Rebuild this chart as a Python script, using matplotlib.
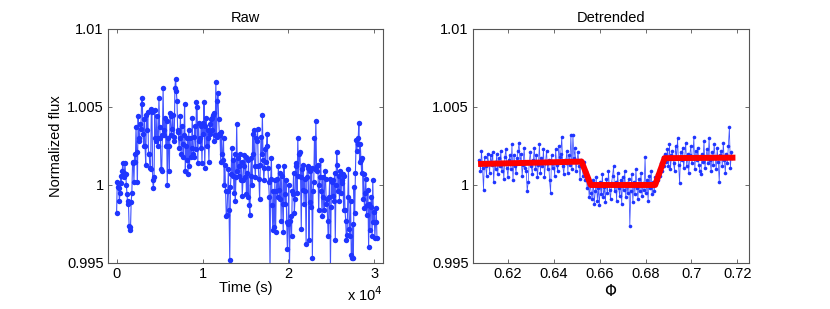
import numpy as np
import matplotlib
matplotlib.use("Agg")
import matplotlib.pyplot as plt

plt.rcParams['font.family'] = ['Liberation Sans', 'DejaVu Sans']

# ---- raw light curve: flux offsets in units of 1e-3 ----
raw_milli = [
    -1.8, 0.2, -0.1, -0.2, -1.0, -0.5, 0.6, 0.1, 0.9, 1.4, 0.8, 0.5, 1.4, 0.7, 0.0, -0.6,
    -1.2, -1.0, -2.6, -2.7, -2.9, -1.1, -0.5, 1.4, 1.5, 0.2,
    2.0, 1.5, 3.7, 2.1, 0.2,
    4.4, 3.0, 2.8, 3.9,
    3.6, 5.2, 5.6, 3.3, 2.5,
    4.2, 2.5, 1.3, 4.5, 3.5,
    4.7, 2.0, 2.0, 1.1,
    1.0, 4.9, 4.7, 0.3, -0.2,
    0.5, 4.8, 3.0, 2.8, 4.4, 3.0,
    2.5, 5.6, 3.7, 3.0, 1.0, 0.9, 3.2,
    6.2, 3.2, 3.5, 4.3, 2.5, 4.1,
    0.0, 3.0, 2.5, 0.9, 4.6,
    4.4, 3.2, 3.6, 4.5, 3.1, 2.8,
    6.2, 6.8, 6.0, 5.4, 3.5, 3.4,
    2.4, 3.0, 4.4, 2.0, 3.8, 2.6, 1.8,
    3.2, 5.2, 0.9, 2.5, 1.6, 3.0, 0.7,
    3.5, 1.2, 3.0, 1.8, 2.4,
    4.3, 2.0, 1.8, 3.1, 3.8, 2.3,
    5.3, 5.0, 1.4, 4.0, 2.8, 3.0,
    2.4, 3.8, 1.4, 4.0, 3.3,
    5.3, 1.1, 3.8, 4.3, 2.5, 3.5,
    3.0, 1.5, 3.9, 3.3, 4.2,
    4.3, 3.5, 4.5, 2.8, 4.6, 3.2,
    6.6, 3.1, 5.4, 5.9, 4.2, 3.3,
    3.2, 1.5, 3.4, 2.0, 1.6, 3.0,
    0.0, 1.3, -0.4, -2.0, -1.9, -0.4, 1.0,
    -1.6, -4.8, -0.1, 0.7,
    2.4, 0.6, 1.6, -0.5, 2.0, -1.0, 0.5,
    3.9, 0.9, 1.7, 0.6, 1.2,
    2.0, 0.3, 1.5, -0.7, 0.3, 1.2,
    1.9, 0.5, 1.8, -0.6, 0.8, -0.8,
    1.6, -1.3, -1.9, 0.6, 1.7, 0.0, 3.3,
    2.0, 3.5, 1.2, 0.5, 3.0, 2.8,
    3.6, 1.2, 0.4, -0.9, 1.3, 3.1,
    2.0, 4.5, 1.6, 0.3, 1.1, 2.3,
    1.5, 2.5, 3.3, 1.1, 0.2, -0.8,
    -5.3, 0.4,
    1.7, -1.3, -2.9, -0.4, -2.7, 0.3, -3.0,
    -0.4, 0.4, -0.8, 1.2, -0.3, -0.9, 0.8,
    -2.3, 0.6, -1.2, -3.0, 1.2, -0.6,
    -1.2, 0.3, -2.4, -4.1, -2.5, 0.0,
    -5.3, -2.3, -2.0, -3.3,
    -0.4, -0.6, 0.8, -1.8, -0.9, 1.2,
    1.4, -0.5, 3.0, 0.6, 2.0,
    2.1, 0.5, -2.8, 1.0, -0.3, 1.3,
    -1.2, 0.4, -0.4, -3.8, 0.5, 1.2,
    1.1, -3.5, -1.1, 0.9, -1.4, 1.1,
    -4.7, -0.4, 0.2, 3.0, 1.0,
    4.1, 1.2, 0.9, 1.3, -1.6, 0.0,
    0.5, 1.6, -0.4, -2.0, 0.5, -0.8,
    -1.6, 0.9, 0.4, -1.2, -0.9, -2.3,
    -3.3, -0.8, 0.4, -5.3, -1.4, 0.2,
    -0.7, 0.3, -1.0, 0.8, -3.5, 0.0,
    2.1, 1.3, -0.4, 0.6, -1.0,
    0.9, -0.5, 0.3, 0.1, 0.7, -1.6,
    0.6, -1.6, -2.3, -3.5, -3.2, -0.8, 1.0,
    -2.8, -3.3, -1.0, -4.5, -4.7, -2.5,
    -4.7, -0.1, -1.8, 0.8, 2.9, 2.2, 2.6,
    3.0, 4.0, 1.5, 2.6, 1.6, 0.8, 1.7,
    -0.9, 0.7, -1.5, -0.5, 0.4, -1.9,
    -1.3, -0.3, -4.0, -1.2, -2.9, -1.4,
    -0.8, -3.3, 0.3, -2.4, -1.7, -3.4,
    -2.4, -1.5, -3.4,
]
raw_t_start, raw_t_end = 0.0, 30300.0

# ---- detrended, phase-folded: flux offsets in units of 1e-3 ----
det_milli = [
    1.6, 0.9, 2.2, 1.1, -0.3, 1.8, 1.2, 0.6, 2.0, 1.4,
    0.8, 1.9, 1.3, 2.1, 0.2, 1.5, 1.0, 2.0, 0.7, 1.7,
    1.2, 2.2, 0.9, 1.4, 0.4, 1.8, 2.3, 1.1, 0.5, 1.6,
    1.9, 1.0, 2.6, 0.3, 1.9, 1.2, 0.8, 1.7, 2.2, 2.7,
    1.4, 2.0, 0.6, 1.3, 2.4, 1.1, 0.9, -0.4, 0.2, 1.5,
    2.1, 1.2, 0.7, 1.6, 2.4, 1.0, 1.9, 0.5, 1.3, 2.6,
    0.8, 1.7, 1.2, 2.3, 0.5, 1.4, 2.2, 1.0, 1.6, 0.3,
    -0.5, 1.9, 1.1, 1.5, 0.6, 2.3, 1.3, 0.9, 2.5, 1.8,
    2.0, 3.1, 1.2, 0.7, 1.6, 1.4, 2.2, 0.8, 1.9, 1.3,
    3.2, 1.0, 3.2, 1.7, 2.4, 0.9, 1.5, 2.1, 1.2, 0.4,
    1.6,
    1.2, 0.6, 1.5, 0.3, 0.9, -0.2, 0.4, -0.8, 0.1, -0.5,
    -0.9, 0.3, -1.2, -0.4, 0.5, -1.0, -0.2, -1.3, 0.2, -0.6,
    0.7, -0.8, -0.1, -1.1, 0.4, -0.5, 0.9, -0.3, -0.9, 0.1,
    0.6, 1.2, -0.4, 0.2, -1.0, 0.8, -0.2, -0.7, 0.3, -1.2,
    0.5, -0.3, 0.9, -0.8, 0.1, -0.5, 0.4, -2.6, -0.4, 0.7,
    -1.1, 0.2, -0.6, 1.0, -0.2, -0.9, 0.4, -0.4, 0.8, -0.7,
    0.1, -0.3, 1.8, -0.5, 0.3, -1.0, 0.6, -0.2, 0.9, -0.6,
    0.2, -0.4, 0.5,
    0.1, 0.7, 0.3, 1.0, 0.6, 1.4, 0.9, 1.8, 1.2, 2.0,
    1.5, 2.3, 1.2, 2.6, 1.0, 1.9, 2.2, 1.4, 0.9, 2.5,
    1.7, 3.0, 1.3, 0.1, 2.1, 1.6, 2.4, 1.1, 1.8, 2.7,
    1.2, 2.0, 0.8, 1.9, 2.5, 1.4, 1.7, 3.1, 1.0, 2.2,
    1.6, 2.4, 1.3, 0.9, 0.7, 2.0, 1.5, 2.8, 1.1, 1.8,
    2.3, 1.4, 3.0, 1.6, 0.9, 2.1, 1.3, 2.6, 1.8, 1.0,
    2.4, 1.5, 0.2, 1.9, 2.2, 1.2, 2.7, 1.6, 0.8, 2.0,
    1.4, 2.5, 3.7, 1.1, 2.1, 1.7,
]
det_phase_start, det_phase_end = 0.6078, 0.7178

# transit model (trapezoid) drawn in red
model_phase = [0.6085, 0.6522, 0.6562, 0.6842, 0.6883, 0.7178]
model_milli = [1.35, 1.50, 0.0, 0.0, 1.72, 1.75]

raw_t = np.linspace(raw_t_start, raw_t_end, len(raw_milli))
raw_flux = 1 + np.array(raw_milli) * 1e-3
det_phase = np.linspace(det_phase_start, det_phase_end, len(det_milli))
det_flux = 1 + np.array(det_milli) * 1e-3
mod_flux = 1 + np.array(model_milli) * 1e-3

blue = '#1f35ff'
yticks = [0.995, 1.0, 1.005, 1.01]
ylabels = ['0.995', '1', '1.005', '1.01']
fs = 10.5

fig = plt.figure(figsize=(8.3, 3.09), dpi=100)
ax1 = fig.add_axes([0.1301, 0.1489, 0.3313, 0.7573])
ax2 = fig.add_axes([0.5699, 0.1489, 0.3325, 0.7573])

ax1.plot(raw_t, raw_flux, '-', color=blue, lw=0.8, alpha=0.85)
ax1.plot(raw_t, raw_flux, 'o', color=blue, ms=3.9, mec=blue, mew=0)
ax1.set_xlim(-1000, 31000)
ax1.set_xticks([0, 10000, 20000, 30000])
ax1.set_xticklabels(['0', '1', '2', '3'])
ax1.text(1.0, -0.135, r'x 10$^4$', transform=ax1.transAxes, ha='right',
         va='center', fontsize=fs)
ax1.set_xlabel('Time (s)', fontsize=fs, labelpad=0)
ax1.set_ylabel('Normalized flux', fontsize=fs, labelpad=3)
ax1.set_title('Raw', fontsize=fs, pad=5)

ax2.plot(det_phase, det_flux, '-', color=blue, lw=0.55, alpha=0.85)
ax2.plot(det_phase, det_flux, 'o', color=blue, ms=2.6, mec=blue, mew=0)
ax2.plot(model_phase, mod_flux, '-', color='red', lw=4.3, solid_joinstyle='round')
ax2.set_xlim(0.605, 0.725)
ax2.set_xticks([0.62, 0.64, 0.66, 0.68, 0.70, 0.72])
ax2.set_xticklabels(['0.62', '0.64', '0.66', '0.68', '0.7', '0.72'])
ax2.set_xlabel(r'$\Phi$', fontsize=fs + 0.5, labelpad=1)
ax2.set_title('Detrended', fontsize=fs, pad=5)

for ax in (ax1, ax2):
    ax.set_ylim(0.995, 1.01)
    ax.set_yticks(yticks)
    ax.set_yticklabels(ylabels)
    ax.tick_params(direction='in', top=True, right=True, length=3, width=0.6,
                   labelsize=fs, color='#555555', pad=3)
    for s in ax.spines.values():
        s.set_color('#555555')
        s.set_linewidth(0.8)

fig.savefig('out.png', dpi=100)
